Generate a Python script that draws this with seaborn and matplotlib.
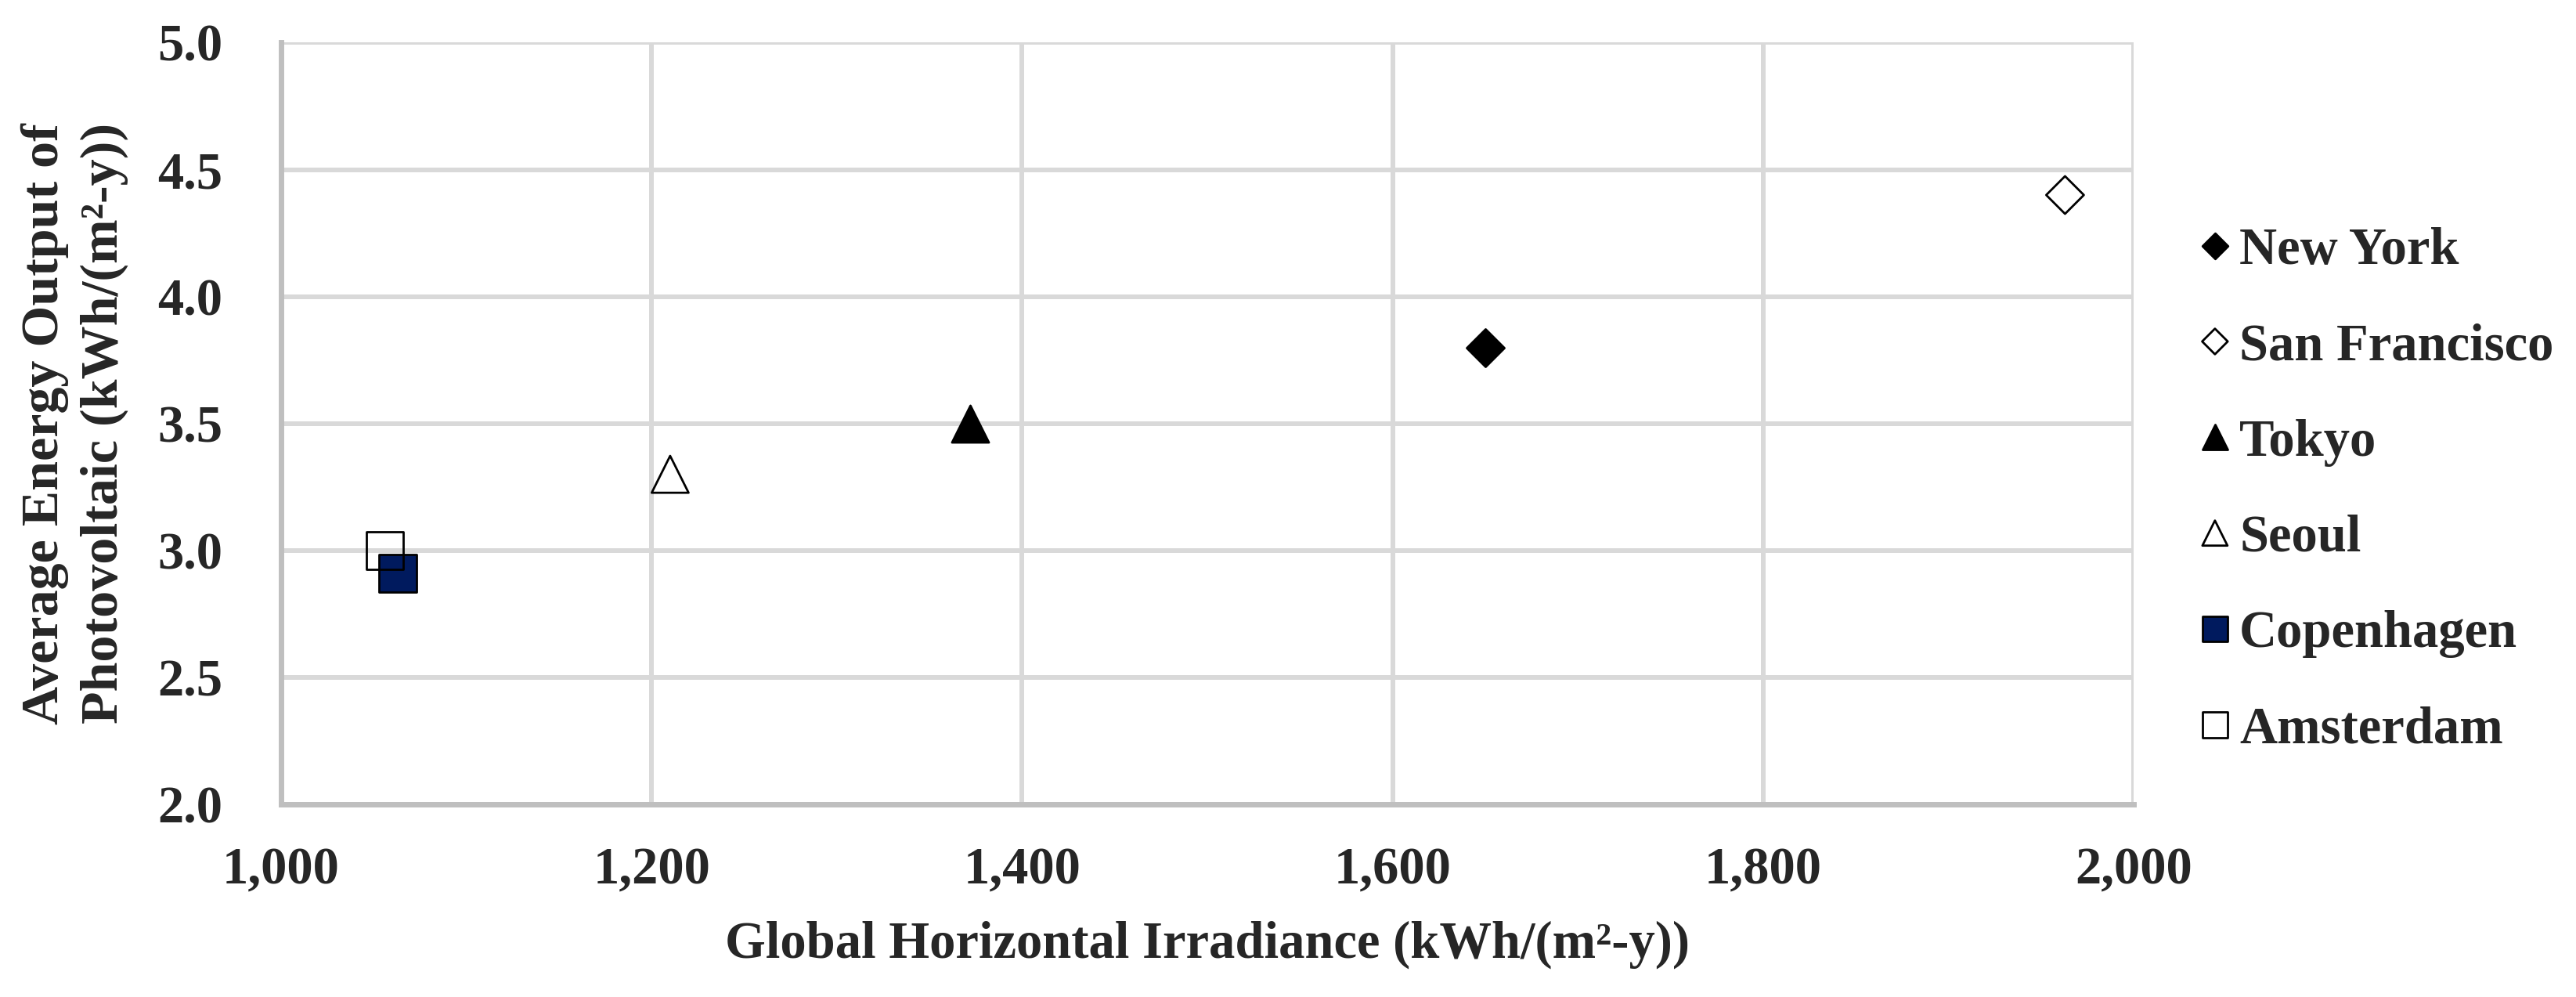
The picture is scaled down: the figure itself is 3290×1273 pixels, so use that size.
import seaborn as sns
import pandas as pd
import matplotlib.pyplot as plt
from matplotlib.ticker import FuncFormatter, MultipleLocator

cities = ['New York', 'San Francisco', 'Tokyo', 'Seoul', 'Copenhagen', 'Amsterdam']
ghi = [1650, 1963, 1372, 1210, 1063, 1056]
pv_output = [3.80, 4.40, 3.50, 3.30, 2.91, 3.00]

marker_shapes = ['D', 'D', '^', '^', 's', 's']
face_colors = ['black', 'none', 'black', 'none', '#001A5E', 'none']
marker_sizes = [600, 600, 1150, 1150, 1190, 1190]

df = pd.DataFrame({'City': cities, 'GHI': ghi, 'Output': pv_output})

sns.set_style('white')
plt.rcParams['font.family'] = ['Liberation Serif', 'DejaVu Serif']
plt.rcParams['font.weight'] = 'bold'

fig = plt.figure(figsize=(32.91, 12.73), dpi=100)
ax = fig.add_axes([0.1091, 0.1932, 0.7189, 0.7640])

for city, m, fc, s in zip(cities, marker_shapes, face_colors, marker_sizes):
    sns.scatterplot(data=df[df['City'] == city], x='GHI', y='Output', marker=m,
                    s=s, facecolor=fc, edgecolor='black', linewidth=2.0,
                    label=city, ax=ax, zorder=3)

ax.set_xlim(1000, 2000)
ax.set_ylim(2.0, 5.0)
ax.xaxis.set_major_locator(MultipleLocator(200))
ax.yaxis.set_major_locator(MultipleLocator(0.5))
ax.xaxis.set_major_formatter(FuncFormatter(lambda v, p: f'{v:,.0f}'))
ax.yaxis.set_major_formatter(FuncFormatter(lambda v, p: f'{v:.1f}'))

ax.grid(True, color='#D9D9D9', linewidth=4.3)
ax.set_axisbelow(True)
for side in ['top', 'right']:
    ax.spines[side].set_visible(False)
for side in ['left', 'bottom']:
    ax.spines[side].set_color('#BFBFBF')
    ax.spines[side].set_linewidth(5)

ax.tick_params(axis='both', length=0, labelsize=48)
ax.tick_params(axis='x', pad=39)
ax.tick_params(axis='y', pad=54)

ax.set_xlabel('Global Horizontal Irradiance (kWh/(m²-y))', fontsize=48, fontweight='bold')
ax.set_ylabel('Average Energy Output of\nPhotovoltaic (kWh/(m²-y))', fontsize=49,
              fontweight='bold', linespacing=1.3)
ax.xaxis.set_label_coords(0.5, -0.153)
ax.yaxis.set_label_coords(-0.0824, 0.5)

ax.legend(loc='center left', bbox_to_anchor=(0.8535, 0.508), bbox_transform=fig.transFigure,
          frameon=False, borderpad=0, borderaxespad=0, handlelength=0.6, handletextpad=0.17,
          labelspacing=0.92, markerscale=0.68, scatteryoffsets=[0.5],
          prop={'size': 48, 'weight': 'bold', 'family': 'Liberation Serif'})

fig.savefig('out.png', dpi=100)
